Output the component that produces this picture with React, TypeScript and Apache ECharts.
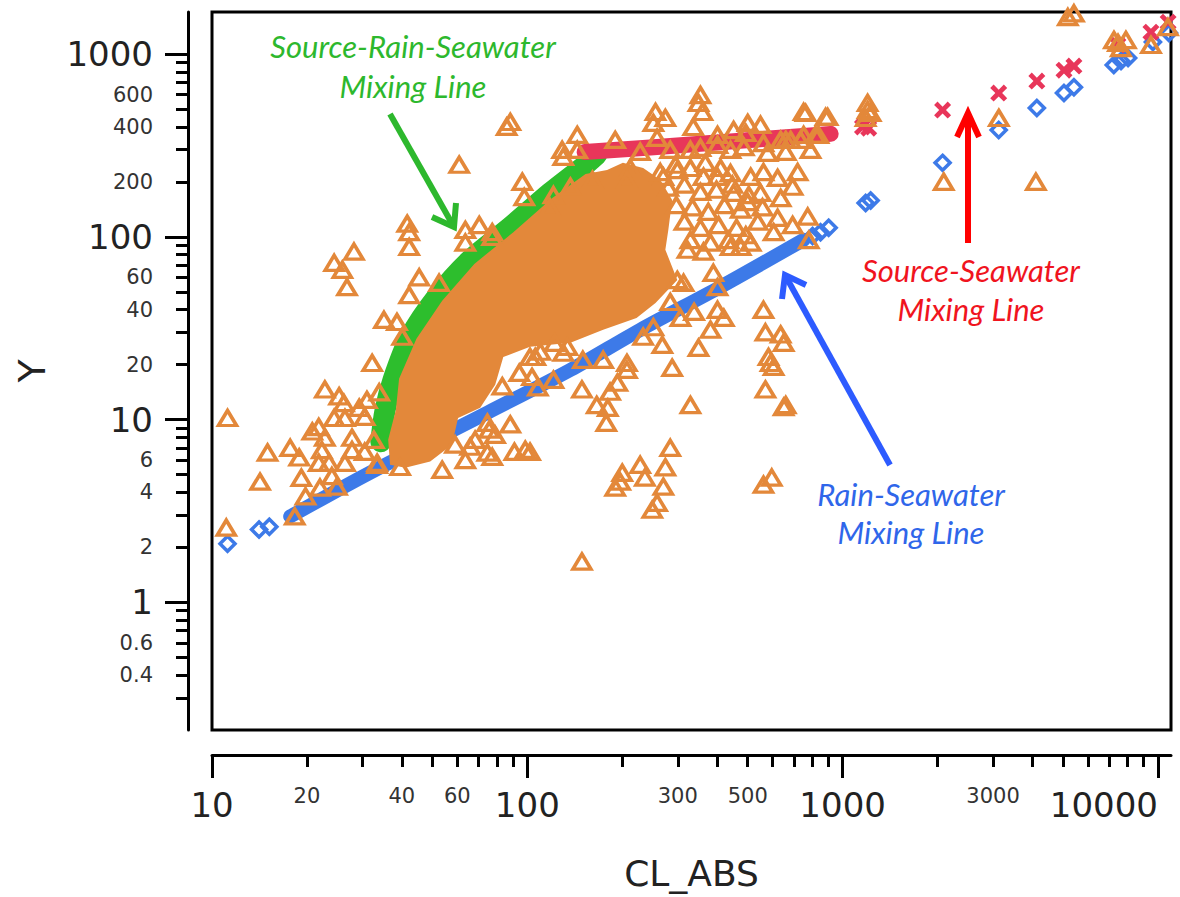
import React, { useEffect, useRef } from 'react';
import * as echarts from 'echarts';

// ---- axis ticks / labels ----
const xMajorTicks = [10, 100, 1000, 10000];
const xMinorTicks = [20, 30, 40, 50, 60, 70, 80, 90, 200, 300, 400, 500, 600, 700, 800, 900, 2000, 3000, 4000, 5000, 6000, 7000, 8000, 9000];
const xMinorLabels = [20, 40, 60, 300, 500, 3000];
const yMajorTicks = [1, 10, 100, 1000];
const yMinorTicks = [0.3, 0.4, 0.5, 0.6, 0.7, 0.8, 0.9, 2, 3, 4, 5, 6, 7, 8, 9, 20, 30, 40, 50, 60, 70, 80, 90, 200, 300, 400, 500, 600, 700, 800, 900];
const yMinorLabels = [0.4, 0.6, 2, 4, 6, 20, 40, 60, 200, 400, 600];

// ---- Rain-Seawater mixing line (blue diamonds) ----
const rainSeawaterBand = [[17.7, 2.95], [31.7, 5.12], [74.7, 10.9], [137, 18.7], [228, 31.0], [410, 53.3], [752, 96.3]];
const rainSeawaterPoints = [[11.2, 2.09], [14.1, 2.5], [15.2, 2.59], [803, 101], [851, 106], [903, 112], [1183, 153], [1227, 158], [2075, 254], [3126, 384], [4130, 507], [5035, 612], [5414, 659], [7244, 871], [7636, 916], [8040, 951], [9640, 1164], [10840, 1303]];

// ---- Source-Rain-Seawater mixing line (green) ----
const sourceRainSeawaterBand = [[34.3, 7.56], [35.4, 11.3], [37.5, 16.5], [42.5, 28.4], [51.7, 47], [65.9, 74.8], [88.3, 113], [118, 174], [150, 241], [166, 281]];

// ---- Source-Seawater mixing line (red crosses) ----
const sourceSeawaterBand = [[152, 291], [354, 323], [916, 366]];
const sourceSeawaterPoints = [[1156, 399], [1210, 393], [2075, 494], [3126, 612], [4130, 712], [5035, 817], [5414, 860], [7464, 1120], [9500, 1319], [10770, 1496]];

// ---- observed samples (orange triangles) ----
const observedCoreOutline = [[36.7, 5.65], [36.2, 7.75], [38.3, 11.3], [39.2, 16.7], [44.5, 27.7], [53.7, 44.7], [67.9, 71.1], [90.3, 106], [120, 163], [153, 221], [179, 232], [201, 254], [233, 238], [264, 205], [288, 159], [280, 109], [274, 85], [299, 58], [255, 43.5], [222, 36], [174, 31], [137, 26.3], [102, 25], [83.9, 22], [79.1, 15.5], [70.9, 11.6], [60.3, 10.2], [57.7, 7.27], [49.2, 5.9], [41, 5.45]];
const observedPoints = [
  [11.2, 10.2], [11.1, 2.56], [14.2, 4.57], [15.0, 6.6], [17.7, 7.0], [18.9, 6.2], [19.2, 4.8], [19.8, 3.8], [18.3, 2.95], [20.8, 8.6], [21.8, 9.1], [22.8, 14.6], [25.3, 13.4], [26.2, 12.3], [24.4, 10.2], [26.4, 10.2], [22.8, 7.95], [22.3, 6.8], [21.8, 5.8], [23.5, 5.8], [24.0, 4.9], [22.0, 4.24], [24.9, 4.3], [27.8, 7.95], [27.8, 6.8], [26.4, 5.8], [29.3, 11.6], [31.0, 12.8], [30.5, 10.35], [33.9, 14.1], [32.6, 7.75], [30.5, 6.66], [33.4, 5.8], [32.2, 20.4], [35.1, 35.1], [38.6, 34.2], [42.2, 48], [45.4, 60], [52.5, 56], [26.8, 53], [24.4, 72], [25.9, 66], [28.2, 83], [42.2, 88], [42.2, 106], [63.6, 93], [77.4, 100], [40.1, 28.4], [91, 6.66], [98.5, 6.83], [53.7, 5.31], [63.6, 6.0], [77.4, 6.25], [75.7, 8.8], [79, 8.25], [106, 22], [94.3, 18], [103.5, 17.1], [83.3, 15.2], [39.5, 5.5], [33.4, 5.65], [86, 400], [88.3, 425], [60.8, 248], [96.4, 200], [97.8, 165], [41.6, 118], [63.6, 109], [70.4, 116], [77.4, 106],
  [354, 597], [349, 540], [359, 482], [336, 399], [255, 482], [274, 447], [251, 420], [258, 348], [144, 361], [144, 299], [130, 274], [129, 299], [228, 292], [329, 299], [354, 307], [401, 361], [401, 319], [451, 384], [500, 420], [549, 410], [493, 370], [441, 299], [486, 310], [561, 326], [578, 288], [660, 339], [763, 476], [883, 453], [752, 361], [820, 361], [161, 205], [212, 238], [207, 205], [299, 232], [270, 213], [362, 213], [441, 223], [401, 213], [511, 213], [561, 226], [622, 210], [720, 226], [694, 188], [549, 174], [636, 163], [451, 174], [500, 155], [622, 127], [604, 106], [694, 116], [775, 129], [781, 96], [511, 93], [475, 88], [441, 88], [389, 63.5], [401, 53], [329, 96], [322, 85], [362, 83], [299, 58], [313, 56], [284, 44], [338, 38.8], [306, 36], [401, 39.8], [420, 36], [561, 39.8], [137, 188], [121, 169], [118, 145],
  [569, 30], [636, 29.2], [650, 26.3], [582, 22], [591, 20.4], [604, 19.4], [569, 14.6], [660, 12], [650, 11.7], [381, 31], [349, 24.7], [288, 19.2], [329, 12], [268, 25.6], [207, 18.7], [193, 15.9], [149, 14.6], [183, 14.2], [166, 12], [180, 11.6], [178, 9.6], [102, 6.66], [284, 7.0], [228, 5.65], [274, 5.48], [236, 4.81], [200, 5.11], [197, 4.57], [190, 4.24], [270, 4.29], [258, 3.5], [249, 3.21], [561, 4.4], [596, 4.81], [149, 1.67], [121, 16.5], [108, 15], [130, 23.2],
  [752, 482], [896, 453], [1200, 494], [1200, 540], [1183, 447], [1227, 476], [736, 339], [684, 339], [636, 339], [838, 361], [2092, 200], [3129, 447], [4100, 200], [7470, 1150], [7630, 1079], [7253, 1194], [7913, 1194], [9501, 1122], [5179, 1594], [5414, 1670], [10756, 1404],
  [110, 23.5], [122, 26.3], [59, 7.3], [68.3, 7.75], [88.3, 9.4],
  [264, 226], [295, 248], [329, 238], [367, 254], [410, 238], [280, 186], [315, 193], [354, 176], [398, 181], [447, 193], [297, 149], [334, 145], [375, 137], [422, 149], [475, 141], [315, 121], [354, 112], [404, 116], [461, 112], [381, 93], [435, 96], [493, 102], [538, 121], [557, 145], [504, 169],
  [190, 339], [284, 299], [660, 292], [791, 299],
  [102, 22], [134, 25], [150, 21.2], [174, 21.2], [207, 20.4], [233, 28.4], [251, 32], [74.7, 9.6], [65.9, 7.1], [74.7, 6.6],
];

const BLUE = '#3D7AE8';
const GREEN = '#2DBE2D';
const RED = '#E8365A';
const ORANGE = '#E3883A';
const NUM_FONT = 'DejaVu Sans';

const fmt = (v: number) => String(parseFloat(Number(v).toPrecision(6)));

const X_CROSS = 'path://M2,0 L5,3 L8,0 L10,2 L7,5 L10,8 L8,10 L5,7 L2,10 L0,8 L3,5 L0,2 Z';

function arrow(color: string, tail: number[], tip: number[], arm1: number[], arm2: number[]) {
  return {
    type: 'group',
    children: [
      { type: 'line', shape: { x1: tail[0], y1: tail[1], x2: tip[0], y2: tip[1] }, style: { stroke: color, lineWidth: 6 } },
      { type: 'polyline', shape: { points: [arm1, tip, arm2] }, style: { stroke: color, lineWidth: 6, fill: null, lineJoin: 'miter' } },
    ],
  };
}

function label(text: string, x: number, y: number, color: string) {
  return {
    type: 'text',
    x,
    y,
    style: { text, fill: color, fontSize: 31, fontFamily: 'Lato', fontStyle: 'italic', align: 'center', verticalAlign: 'middle' },
  };
}

export default function App() {
  const ref = useRef<HTMLDivElement>(null);
  useEffect(() => {
    if (!ref.current) return;
    const chart = echarts.init(ref.current, undefined, { renderer: 'svg' });
    const baseX = { type: 'log', logBase: 10, min: 10, max: 11000, gridIndex: 0, position: 'bottom', offset: 25, splitLine: { show: false }, minorTick: { show: false } };
    const baseY = { type: 'log', logBase: 10, min: 0.2, max: 1700, gridIndex: 0, position: 'left', offset: 24, splitLine: { show: false }, minorTick: { show: false } };
    const option: any = {
      animation: false,
      grid: { left: 212, right: 9, top: 12, bottom: 167, show: true, borderColor: '#000', borderWidth: 3, backgroundColor: 'transparent', containLabel: false, outerBoundsMode: 'none' },
      xAxis: [
        {
          ...baseX,
          name: 'CL_ABS', nameLocation: 'middle', nameGap: 100,
          nameTextStyle: { fontSize: 36, fontFamily: NUM_FONT, color: '#222' },
          axisLine: { show: true, lineStyle: { color: '#000', width: 3 } },
          axisTick: { show: true, length: 23, lineStyle: { color: '#000', width: 3 }, customValues: xMajorTicks },
          axisLabel: { customValues: xMajorTicks, fontSize: 34, fontFamily: NUM_FONT, color: '#222', margin: 33, formatter: fmt, alignMaxLabel: 'right' },
        },
        {
          ...baseX,
          axisLine: { show: false },
          axisTick: { show: true, length: 12, lineStyle: { color: '#000', width: 3 }, customValues: xMinorTicks },
          axisLabel: { customValues: xMinorLabels, fontSize: 21, fontFamily: NUM_FONT, color: '#333', margin: 30, formatter: fmt },
        },
      ],
      yAxis: [
        {
          ...baseY,
          name: 'Y', nameLocation: 'middle', nameGap: 137, nameRotate: 90,
          nameTextStyle: { fontSize: 38, fontFamily: NUM_FONT, color: '#222' },
          axisLine: { show: true, lineStyle: { color: '#000', width: 3 } },
          axisTick: { show: true, length: 23, lineStyle: { color: '#000', width: 3 }, customValues: yMajorTicks },
          axisLabel: { customValues: yMajorTicks, fontSize: 34, fontFamily: NUM_FONT, color: '#222', margin: 35, formatter: fmt },
        },
        {
          ...baseY,
          axisLine: { show: false },
          axisTick: { show: true, length: 12, lineStyle: { color: '#000', width: 3 }, customValues: yMinorTicks },
          axisLabel: { customValues: yMinorLabels, fontSize: 21, fontFamily: NUM_FONT, color: '#333', margin: 35, formatter: fmt },
        },
      ],
      series: [
        {
          name: 'Rain-Seawater band', type: 'line', data: rainSeawaterBand, smooth: 0.3, showSymbol: false, silent: true, z: 2,
          lineStyle: { color: BLUE, width: 14, cap: 'round' },
        },
        {
          name: 'Rain-Seawater', type: 'scatter', data: rainSeawaterPoints, symbol: 'diamond', symbolSize: [15, 15], silent: true, z: 3,
          itemStyle: { color: 'rgba(0,0,0,0)', borderColor: BLUE, borderWidth: 3.5, opacity: 1 },
        },
        {
          name: 'Source-Rain-Seawater band', type: 'line', data: sourceRainSeawaterBand, smooth: 0.3, showSymbol: false, silent: true, z: 2,
          lineStyle: { color: GREEN, width: 21, cap: 'round' },
        },
        {
          name: 'Source-Seawater band', type: 'line', data: sourceSeawaterBand, smooth: 0.3, showSymbol: false, silent: true, z: 2,
          lineStyle: { color: RED, width: 16, cap: 'round' },
        },
        {
          name: 'Source-Seawater', type: 'scatter', data: sourceSeawaterPoints, symbol: X_CROSS, symbolSize: 17, silent: true, z: 3,
          itemStyle: { color: RED, opacity: 1 },
        },
        {
          name: 'Observed core', type: 'custom', data: observedCoreOutline, silent: true, z: 4, clip: true,
          renderItem: (params: any, api: any) => {
            if (params.dataIndex !== 0) return null;
            const points = observedCoreOutline.map((p) => api.coord(p));
            return { type: 'polygon', shape: { points }, style: { fill: ORANGE } };
          },
        },
        {
          name: 'Observed', type: 'scatter', data: observedPoints, symbol: 'triangle', symbolSize: [18, 15], silent: true, z: 5,
          itemStyle: { color: 'rgba(0,0,0,0)', borderColor: ORANGE, borderWidth: 3.5, opacity: 1 },
        },
      ],
      graphic: [
        label('Source-Rain-Seawater', 413, 46, '#2DB82D'),
        label('Mixing Line', 413, 86, '#2DB82D'),
        arrow('#2DB82D', [390, 114], [454, 227], [456, 203], [432, 217]),
        label('Source-Seawater', 971, 270, '#F0141E'),
        label('Mixing Line', 971, 309, '#F0141E'),
        arrow('#FF0000', [968, 243], [968, 113], [957, 137], [979, 137]),
        label('Rain-Seawater', 911, 494, '#2F66EA'),
        label('Mixing Line', 911, 532, '#2F66EA'),
        arrow('#2D5BFF', [890, 465], [785, 275], [782, 299], [806, 285]),
      ],
    };
    chart.setOption(option);
    return () => chart.dispose();
  }, []);
  return <div ref={ref} style={{ position: 'absolute', left: 0, top: 0, width: 1180, height: 897 }} />;
}
